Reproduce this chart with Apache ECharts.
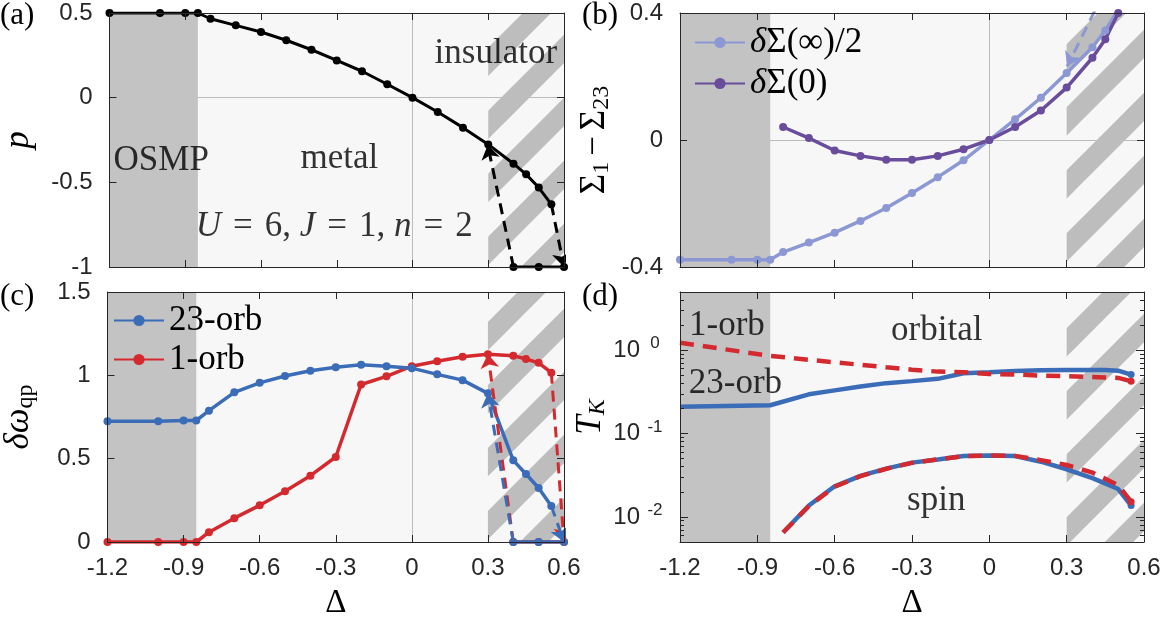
<!DOCTYPE html>
<html>
<head>
<meta charset="utf-8">
<script src="https://cdn.jsdelivr.net/npm/echarts@6.0.0/dist/echarts.min.js"></script>
<style>
  html, body { margin: 0; padding: 0; background: #fff; }
  #main { width: 1165px; height: 621px; }
</style>
</head>
<body>
<div id="main"></div>
<script>
// ---- values ----
// (a) p vs Delta
const deltaMetal = [-1.2, -1.0, -0.9, -0.85, -0.8, -0.7, -0.6, -0.5, -0.4, -0.3, -0.2, -0.1, 0, 0.1, 0.2, 0.3, 0.4, 0.45, 0.5, 0.55];
const pMetal = [0.5, 0.5, 0.5, 0.5, 0.466, 0.427, 0.388, 0.339, 0.283, 0.220, 0.156, 0.079, 0, -0.085, -0.177, -0.276, -0.390, -0.453, -0.531, -0.630];
const deltaIns = [0.4, 0.5, 0.6];
const pIns = [-1, -1, -1];
const arrowsA = [[[0.4, -1], [0.298, -0.28]], [[0.55, -0.63], [0.6, -1]]];

// (b) Sigma_1 - Sigma_23
const deltaInf = [-1.2, -1.0, -0.9, -0.85, -0.8, -0.7, -0.6, -0.5, -0.4, -0.3, -0.2, -0.1, 0, 0.1, 0.2, 0.3, 0.4, 0.45, 0.5];
const sigmaInf = [-0.377, -0.377, -0.377, -0.377, -0.353, -0.323, -0.292, -0.255, -0.214, -0.167, -0.117, -0.064, 0, 0.065, 0.133, 0.211, 0.292, 0.345, 0.41];
const deltaZero = [-0.8, -0.7, -0.6, -0.5, -0.4, -0.3, -0.2, -0.1, 0, 0.1, 0.2, 0.3, 0.4, 0.45, 0.5];
const sigmaZero = [0.041, 0.006, -0.033, -0.050, -0.062, -0.062, -0.050, -0.029, 0, 0.041, 0.093, 0.165, 0.259, 0.317, 0.4];
const arrowsB = [[[0.44, 0.458], [0.302, 0.232]]];

// (c) delta omega_qp
const deltaQp = [-1.2, -1.0, -0.9, -0.85, -0.8, -0.7, -0.6, -0.5, -0.4, -0.3, -0.2, -0.1, 0, 0.1, 0.2, 0.3, 0.4, 0.45, 0.5, 0.55];
const qp23 = [0.725, 0.725, 0.729, 0.729, 0.788, 0.898, 0.955, 0.996, 1.027, 1.049, 1.063, 1.055, 1.043, 1.006, 0.971, 0.892, 0.49, 0.408, 0.324, 0.216];
const qp1 = [0, 0, 0, 0, 0.059, 0.143, 0.22, 0.304, 0.398, 0.51, 0.945, 0.994, 1.055, 1.084, 1.112, 1.127, 1.118, 1.098, 1.075, 1.016];
const qpIns = [0, 0, 0];
const arrowsC1 = [[[0.4, 0], [0.3, 1.127]], [[0.55, 1.016], [0.6, 0]]];
const arrowsC23 = [[[0.4, 0], [0.3, 0.892]], [[0.55, 0.216], [0.6, 0]]];

// (d) T_K (log scale)
const deltaOrb = [-1.2, -0.85, -0.7, -0.6, -0.5, -0.4, -0.3, -0.2, -0.1, 0, 0.1, 0.2, 0.3, 0.4, 0.45, 0.5, 0.55];
const tkOrb23 = [0.210, 0.219, 0.296, 0.330, 0.368, 0.403, 0.426, 0.454, 0.530, 0.545, 0.565, 0.575, 0.58, 0.58, 0.58, 0.569, 0.511];
const tkOrb1 = [1.23, 0.857, 0.769, 0.715, 0.670, 0.624, 0.585, 0.554, 0.544, 0.520, 0.511, 0.497, 0.488, 0.479, 0.472, 0.466, 0.426];
const deltaSpin = [-0.8, -0.7, -0.6, -0.5, -0.4, -0.3, -0.2, -0.1, 0, 0.1, 0.2, 0.3, 0.4, 0.5, 0.55];
const tkSpin23 = [0.0065, 0.0137, 0.0233, 0.0311, 0.0380, 0.0448, 0.049, 0.0537, 0.0547, 0.0537, 0.046, 0.0373, 0.0292, 0.0216, 0.0137];
const tkSpin1 = [0.0065, 0.0135, 0.0230, 0.0308, 0.0378, 0.0445, 0.049, 0.0535, 0.0545, 0.054, 0.048, 0.042, 0.034, 0.024, 0.0152];

// regions and tick labels
const osmpRange = [-1.2, -0.85];
const insRange = [0.3, 0.6];
const logMajor = [0.01, 0.1, 1];
const logMinor = [0.006, 0.007, 0.008, 0.009, 0.02, 0.03, 0.04, 0.05, 0.06, 0.07, 0.08, 0.09,
                  0.2, 0.3, 0.4, 0.5, 0.6, 0.7, 0.8, 0.9, 2, 3, 4];

// text labels inside the panels (anchored in data coordinates)
const notesA = [['insulator', 0.33, 0.26], ['OSMP', -0.995, -0.37], ['metal', -0.29, -0.36],
                ['{i|U}{eq|=}6, {i|J}{eq|=}1, {i|n}{eq|=}2', -0.31, -0.765]];
const notesD = [['1-orb', -1.018, 1.95], ['23-orb', -0.985, 0.40], ['orbital', -0.204, 1.69], ['spin', -0.206, 0.0155]];

const sans = 'Liberation Sans';
const serif = 'Liberation Serif';
const ink = '#262626';
const black = '#000000';
const lightPurple = '#8c98d4';
const purple = '#6a4c9c';
const blue = '#3b6cb7';
const red = '#d42a2f';
const osmpGray = '#c3c3c3';

const zip = (xs, ys) => xs.map((x, i) => [x, ys[i]]);

// diagonal hatch used for the insulating region
function hatch(phase) {
  const T = 63;
  const cv = document.createElement('canvas');
  cv.width = T; cv.height = T;
  const ctx = cv.getContext('2d');
  ctx.strokeStyle = '#bdbdbd';
  ctx.lineWidth = 20;
  for (let k = -2; k <= 3; k++) {
    const s = phase + k * T;
    ctx.beginPath();
    ctx.moveTo(s + T, -T);
    ctx.lineTo(s - 2 * T, 2 * T);
    ctx.stroke();
  }
  return { image: cv, repeat: 'repeat' };
}

const xAxes = [], yAxes = [];
const addX = o => { xAxes.push(o); return xAxes.length - 1; };
const addY = o => { yAxes.push(o); return yAxes.length - 1; };
const frameLine = { show: true, onZero: false, lineStyle: { color: ink, width: 1 } };
const tick = len => ({ show: true, inside: true, length: len, lineStyle: { color: ink, width: 1 } });
const hidden = { axisLine: { show: false, onZero: false }, axisTick: { show: false }, axisLabel: { show: false } };

function frameX(g, labels) {
  const base = { gridIndex: g, type: 'value', min: -1.2, max: 0.6, interval: 0.3, z: 10, axisLine: frameLine, splitLine: { show: false } };
  const main = addX(Object.assign({}, base, {
    position: 'bottom', axisTick: tick(7),
    axisLabel: { show: labels, color: ink, fontFamily: sans, fontSize: 24, margin: 14 },
    name: labels ? 'Δ' : '', nameLocation: 'middle', nameGap: 45,
    nameTextStyle: { fontFamily: serif, fontSize: 33, color: black }
  }));
  addX(Object.assign({}, base, { position: 'top', axisTick: tick(7), axisLabel: { show: false } }));
  return main;
}
function zeroX(g) {
  addX(Object.assign({ gridIndex: g, type: 'value', min: -1.2, max: 0.6, interval: 1.2,
    splitLine: { show: true, lineStyle: { color: '#bcbcbc', width: 1 } } }, hidden));
}
function frameY(g, min, max, interval, name, gap, rich) {
  const base = { gridIndex: g, type: 'value', min, max, interval, z: 10, axisLine: frameLine, splitLine: { show: false } };
  const main = addY(Object.assign({}, base, {
    position: 'left', axisTick: tick(7),
    axisLabel: { color: ink, fontFamily: sans, fontSize: 24, margin: 17 },
    name, nameLocation: 'middle', nameRotate: 90, nameGap: gap,
    nameTextStyle: { color: black, rich }
  }));
  addY(Object.assign({}, base, { position: 'right', axisTick: tick(7), axisLabel: { show: false } }));
  return main;
}
function zeroY(g, min, max, interval) {
  addY(Object.assign({ gridIndex: g, type: 'value', min, max, interval,
    splitLine: { show: true, lineStyle: { color: '#bcbcbc', width: 1 } } }, hidden));
}

const mathRich = {
  i: { fontFamily: serif, fontStyle: 'italic', fontSize: 35, color: black, lineHeight: 38 },
  r: { fontFamily: serif, fontSize: 35, color: black, lineHeight: 38 },
  eq: { fontFamily: serif, fontSize: 35, color: black, lineHeight: 38, padding: [0, 12, 0, 12] },
  m: { fontFamily: serif, fontSize: 35, color: black, lineHeight: 38, padding: [0, 6, 0, 6] },
  s: { fontFamily: serif, fontSize: 24, color: black, lineHeight: 38, verticalAlign: 'bottom' },
  si: { fontFamily: serif, fontStyle: 'italic', fontSize: 24, color: black, lineHeight: 38, verticalAlign: 'bottom' }
};

// (a)
const xA = frameX(0, false); zeroX(0);
const yA = frameY(0, -1, 0.5, 0.5, '{i|p}', 72, mathRich); zeroY(0, -1, 0.5, 1);
// (b)
const xB = frameX(1, false); zeroX(1);
const yB = frameY(1, -0.4, 0.4, 0.4, '{r|Σ}{s|1}{m|−}{r|Σ}{s|23}', 66, mathRich); zeroY(1, -0.4, 0.4, 0.4);
// (c)
const xC = frameX(2, true); zeroX(2);
const yC = frameY(2, 0, 1.5, 0.5, '{i|δω}{s|qp}', 70, mathRich);
// (d) log axis
const xD = frameX(3, true);
const logBase = { gridIndex: 3, type: 'log', logBase: 10, min: 0.005, max: 5, z: 10, splitLine: { show: false } };
const yD = addY(Object.assign({}, logBase, {
  position: 'left', axisLine: frameLine,
  axisTick: Object.assign(tick(8), { customValues: logMajor }),
  axisLabel: {
    customValues: logMajor, margin: 14,
    formatter: v => '{b|10}{e|' + Math.round(Math.log10(v)) + '}',
    rich: {
      b: { fontFamily: sans, fontSize: 24, color: ink, lineHeight: 30 },
      e: { fontFamily: sans, fontSize: 17, color: ink, lineHeight: 16, verticalAlign: 'top', width: 22, align: 'left', padding: [0, 0, 0, 4] }
    }
  },
  name: '{i|T}{si|K}', nameLocation: 'middle', nameRotate: 90, nameGap: 70,
  nameTextStyle: { color: black, rich: mathRich }
}));
addY(Object.assign({}, logBase, { position: 'left', axisLine: { show: false, onZero: false }, axisLabel: { show: false },
  axisTick: Object.assign(tick(4), { customValues: logMinor }) }));
addY(Object.assign({}, logBase, { position: 'right', axisLine: frameLine, axisLabel: { show: false },
  axisTick: Object.assign(tick(8), { customValues: logMajor }) }));
addY(Object.assign({}, logBase, { position: 'right', axisLine: { show: false, onZero: false }, axisLabel: { show: false },
  axisTick: Object.assign(tick(4), { customValues: logMinor }) }));

function regions(phase) {
  return {
    silent: true, label: { show: false },
    data: [
      [{ xAxis: osmpRange[0], itemStyle: { color: osmpGray, opacity: 1 } }, { xAxis: osmpRange[1] }],
      [{ xAxis: insRange[0], itemStyle: { color: hatch(phase), opacity: 1 } }, { xAxis: insRange[1] }]
    ]
  };
}
function arrows(xi, yi, list, color) {
  return {
    type: 'lines', coordinateSystem: 'cartesian2d', xAxisIndex: xi, yAxisIndex: yi, silent: true, z: 4, clip: true,
    data: list.map(c => ({ coords: c })),
    lineStyle: { color, width: 3, type: [11, 7], opacity: 1, curveness: 0 },
    symbol: ['none', 'arrow'], symbolSize: [0, 14]
  };
}
function notes(xi, yi, list) {
  return {
    type: 'scatter', xAxisIndex: xi, yAxisIndex: yi, silent: true, z: 6, symbolSize: 1,
    itemStyle: { color: 'transparent' },
    data: list.map(n => ({ value: [n[1], n[2]], label: { formatter: n[0] } })),
    label: { show: true, position: 'inside', color: black, fontFamily: serif, fontSize: 35, rich: mathRich }
  };
}
const dotLine = (name, xi, yi, data, color, width, size) => ({
  type: 'line', name, xAxisIndex: xi, yAxisIndex: yi, data, color,
  lineStyle: { width }, symbol: 'circle', symbolSize: size, showSymbol: true, z: 3
});
const lastDot = n => (v, p) => (p.dataIndex === n - 1 ? 7 : 0);

const legendText = {
  'δΣ(∞)/2': '{i|δ}{r|Σ(∞)/2}',
  'δΣ(0)': '{i|δ}{r|Σ(0)}',
  '23-orb': '{r|23-orb}',
  '1-orb': '{r|1-orb}'
};
const legendBase = {
  orient: 'vertical', itemWidth: 50, itemHeight: 14, padding: 0, selectedMode: false,
  formatter: n => legendText[n],
  textStyle: { rich: mathRich }
};

var myChart = echarts.init(document.getElementById('main'));
myChart.setOption({
  animation: false,
  textStyle: { fontFamily: sans },
  title: [
    { text: '(a)', left: 0, top: 0 },
    { text: '(b)', left: 582, top: 0 },
    { text: '(c)', left: 0, top: 281 },
    { text: '(d)', left: 582, top: 281 }
  ].map(t => Object.assign(t, { padding: 0, textStyle: { fontFamily: serif, fontSize: 31, fontWeight: 'normal', color: black } })),
  grid: [
    { left: 100, top: 13, width: 464, height: 254 },
    { left: 680, top: 13, width: 464, height: 254 },
    { left: 100, top: 292, width: 464, height: 255 },
    { left: 680, top: 292, width: 464, height: 255 }
  ].map(g => Object.assign(g, { show: true, backgroundColor: '#f7f7f7', borderWidth: 0 })),
  legend: [
    Object.assign({ data: ['δΣ(∞)/2', 'δΣ(0)'], left: 694, top: 25, itemGap: 6 }, legendBase),
    Object.assign({ data: ['23-orb', '1-orb'], left: 113, top: 303, itemGap: 4 }, legendBase)
  ],
  xAxis: xAxes,
  yAxis: yAxes,
  series: [
    // (a)
    Object.assign(dotLine('p metal', xA, yA, zip(deltaMetal, pMetal), black, 3, 8), { markArea: regions(46) }),
    dotLine('p insulator', xA, yA, zip(deltaIns, pIns), black, 3, 8),
    arrows(xA, yA, arrowsA, black),
    notes(xA, yA, notesA),
    // (b)
    Object.assign(dotLine('δΣ(∞)/2', xB, yB, zip(deltaInf, sigmaInf), lightPurple, 3.5, 8), { markArea: regions(54) }),
    dotLine('δΣ(0)', xB, yB, zip(deltaZero, sigmaZero), purple, 3.5, 8),
    arrows(xB, yB, arrowsB, lightPurple),
    // (c)
    Object.assign(dotLine('1-orb', xC, yC, zip(deltaQp, qp1), red, 3.5, 8), { markArea: regions(5) }),
    dotLine('1-orb ins', xC, yC, zip(deltaIns, qpIns), red, 3.5, 8),
    arrows(xC, yC, arrowsC1, red),
    dotLine('23-orb', xC, yC, zip(deltaQp, qp23), blue, 3.5, 8),
    dotLine('23-orb ins', xC, yC, zip(deltaIns, qpIns), blue, 3.5, 8),
    arrows(xC, yC, arrowsC23, blue),
    // (d)
    { type: 'line', name: 'TK orb 23', xAxisIndex: xD, yAxisIndex: yD, data: zip(deltaOrb, tkOrb23), color: blue,
      lineStyle: { width: 4.5 }, symbol: 'circle', symbolSize: lastDot(deltaOrb.length), z: 3, markArea: regions(23) },
    { type: 'line', name: 'TK spin 23', xAxisIndex: xD, yAxisIndex: yD, data: zip(deltaSpin, tkSpin23), color: blue,
      lineStyle: { width: 4.5 }, symbol: 'circle', symbolSize: lastDot(deltaSpin.length), z: 3 },
    { type: 'line', name: 'TK orb 1', xAxisIndex: xD, yAxisIndex: yD, data: zip(deltaOrb, tkOrb1), color: red,
      lineStyle: { width: 4.5, type: [14, 9] }, symbol: 'circle', symbolSize: lastDot(deltaOrb.length), z: 4 },
    { type: 'line', name: 'TK spin 1', xAxisIndex: xD, yAxisIndex: yD, data: zip(deltaSpin, tkSpin1), color: red,
      lineStyle: { width: 4.5, type: [14, 9] }, symbol: 'circle', symbolSize: lastDot(deltaSpin.length), z: 4 },
    notes(xD, yD, notesD)
  ]
});
</script>
</body>
</html>
